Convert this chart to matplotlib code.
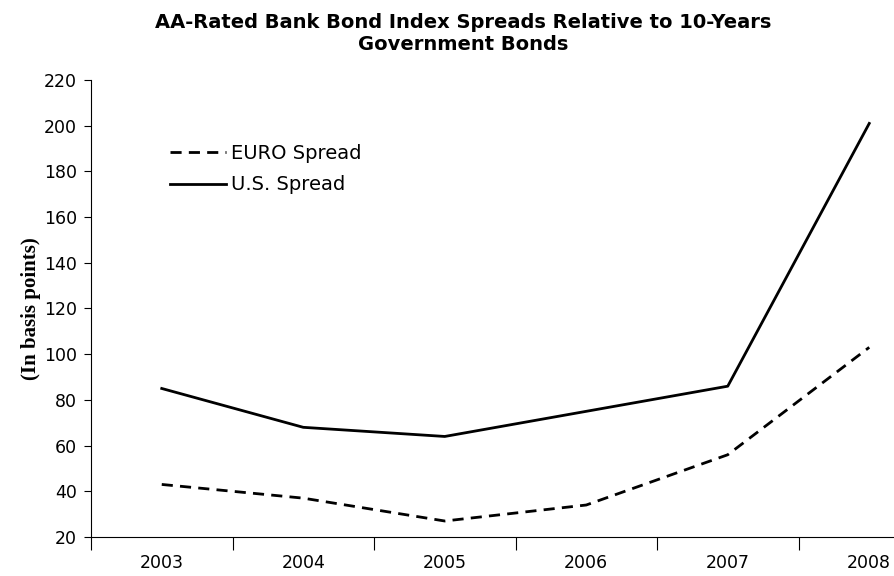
import matplotlib
matplotlib.use("Agg")
import matplotlib.pyplot as plt
import numpy as np

years = ["2003", "2004", "2005", "2006", "2007", "2008"]
euro_spread = [43, 37, 27, 34, 56, 103]
us_spread = [85, 68, 64, 75, 86, 201]
y_ticks = [20, 40, 60, 80, 100, 120, 140, 160, 180, 200, 220]

W, H = 894, 576
fig = plt.figure(figsize=(W / 100, H / 100), dpi=100)

# plot area in pixel coordinates (category axis runs past the right edge)
left, right, top, bottom = 91, 940, 80, 537
ax = fig.add_axes([left / W, 1 - bottom / H, (right - left) / W, (bottom - top) / H])

x = np.arange(len(years))
ax.plot(x, euro_spread, color="black", lw=2, ls=(0, (4, 2.6)), label="EURO Spread")
ax.plot(x, us_spread, color="black", lw=2, ls="-", label="U.S. Spread")

ax.set_xlim(-0.5, len(years) - 0.5)
ax.set_ylim(20, 220)
ax.set_yticks(y_ticks)
ax.tick_params(axis="y", labelsize=12.5, length=5, width=0.8, pad=5)

# tick marks between categories, labels centred on categories
ax.set_xticks(np.arange(len(years)) - 0.5, minor=False)
ax.set_xticklabels([""] * len(years))
ax.set_xticks(x, minor=True)
ax.set_xticklabels(years, minor=True, fontsize=12.5)
ax.tick_params(axis="x", which="major", length=9, width=0.8)
ax.tick_params(axis="x", which="minor", length=0, pad=12)

for s in ["top", "right"]:
    ax.spines[s].set_visible(False)
for s in ["left", "bottom"]:
    ax.spines[s].set_linewidth(0.8)

ax.set_ylabel("(In basis points)", family="Liberation Serif", fontweight="bold",
              fontsize=15, labelpad=2)

ax.legend(loc="upper left",
          bbox_to_anchor=((162 - left) / (right - left), (bottom - 136) / (bottom - top)),
          frameon=False, fontsize=14, handlelength=2.9, handletextpad=0.25,
          labelspacing=0.65, borderaxespad=0)

fig.text(463 / W, 1 - 22 / H, "AA-Rated Bank Bond Index Spreads Relative to 10-Years",
         ha="center", va="center", fontsize=14, fontweight="bold")
fig.text(463 / W, 1 - 45 / H, "Government Bonds",
         ha="center", va="center", fontsize=14, fontweight="bold")

fig.savefig("out.png", dpi=100)
